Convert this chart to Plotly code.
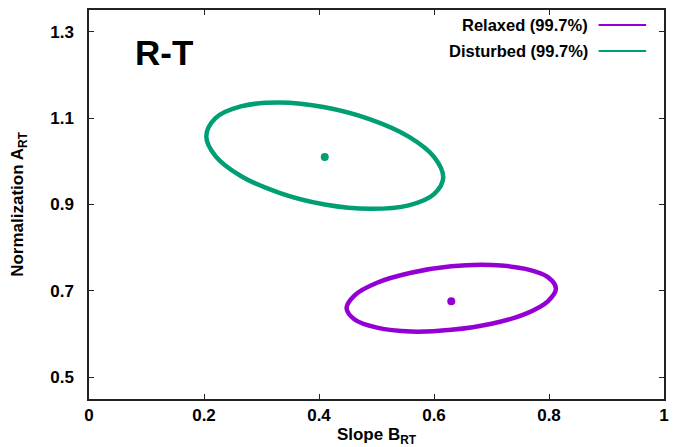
import plotly.graph_objects as go

# Data (99.7% confidence contours and best-fit points)
relaxed_x = [0.812, 0.798, 0.759, 0.700, 0.630, 0.560, 0.501, 0.462, 0.448, 0.462, 0.501, 0.560, 0.630, 0.700, 0.759, 0.798, 0.812]
relaxed_y = [0.706, 0.732, 0.751, 0.760, 0.757, 0.742, 0.719, 0.690, 0.660, 0.634, 0.615, 0.606, 0.610, 0.624, 0.647, 0.676, 0.706]
disturbed_x = [0.616, 0.600, 0.556, 0.489, 0.410, 0.331, 0.264, 0.220, 0.204, 0.220, 0.264, 0.331, 0.410, 0.489, 0.556, 0.600, 0.616]
disturbed_y = [0.962, 1.010, 1.057, 1.097, 1.125, 1.136, 1.127, 1.100, 1.058, 1.012, 0.966, 0.927, 0.900, 0.890, 0.898, 0.924, 0.962]
best_relaxed = (0.630, 0.676)
best_disturbed = (0.410, 1.010)

series_names = ["Relaxed (99.7%)", "Disturbed (99.7%)"]
colors = ["#9400D3", "#009E73"]

x_ticks = [0, 0.2, 0.4, 0.6, 0.8, 1]
x_labels = ["0", "0.2", "0.4", "0.6", "0.8", "1"]
y_ticks = [0.5, 0.7, 0.9, 1.1, 1.3]
y_labels = ["0.5", "0.7", "0.9", "1.1", "1.3"]

FONT = "Liberation Sans, Arial, Helvetica, sans-serif"

fig = go.Figure()
fig.add_trace(go.Scatter(x=relaxed_x, y=relaxed_y, mode="lines", name=series_names[0],
                         line=dict(color=colors[0], width=4.5, shape="spline", smoothing=1.0),
                         showlegend=False))
fig.add_trace(go.Scatter(x=disturbed_x, y=disturbed_y, mode="lines", name=series_names[1],
                         line=dict(color=colors[1], width=4.5, shape="spline", smoothing=1.0),
                         showlegend=False))
fig.add_trace(go.Scatter(x=[best_relaxed[0]], y=[best_relaxed[1]], mode="markers",
                         marker=dict(color=colors[0], size=8), showlegend=False))
fig.add_trace(go.Scatter(x=[best_disturbed[0]], y=[best_disturbed[1]], mode="markers",
                         marker=dict(color=colors[1], size=8), showlegend=False))

axis_common = dict(showline=True, linecolor="#222222", linewidth=1.5, mirror="ticks",
                   ticks="inside", ticklen=5, tickwidth=1, tickcolor="#222222",
                   showgrid=False, zeroline=False,
                   tickfont=dict(family=FONT, size=17, color="black", weight="bold"))

fig.update_layout(
    width=673, height=447,
    margin=dict(l=89, r=4, t=10, b=48),
    paper_bgcolor="white", plot_bgcolor="white",
    xaxis=dict(range=[0, 1], tickvals=x_ticks, ticktext=x_labels,
               title=dict(text="Slope B<sub>RT</sub>", standoff=6,
                          font=dict(family=FONT, size=17, color="black", weight="bold")),
               **axis_common),
    yaxis=dict(range=[0.45, 1.35], tickvals=y_ticks, ticktext=y_labels,
               ticklabelstandoff=10,
               title=dict(text="Normalization A<sub>RT</sub>", standoff=22,
                          font=dict(family=FONT, size=17, color="black", weight="bold")),
               **axis_common),
    showlegend=False,
)

# "R-T" label
fig.add_annotation(text="R-T", xref="paper", yref="paper", x=0.077, y=0.892,
                   xanchor="left", yanchor="middle", showarrow=False,
                   font=dict(family=FONT, size=35, color="black", weight="bold"))

# gnuplot-style key (text right, sample line to the right)
legend_y = [1 - (25 - 10) / 389, 1 - (51 - 10) / 389]
for name, col, yy in zip(series_names, colors, legend_y):
    fig.add_annotation(text=name, xref="paper", yref="paper", x=(594 - 89) / 580, y=yy,
                       xanchor="right", yanchor="middle", showarrow=False,
                       font=dict(family=FONT, size=16.5, color="black", weight="bold"))
    fig.add_shape(type="line", xref="paper", yref="paper",
                  x0=(603 - 89) / 580, x1=(651 - 89) / 580, y0=yy, y1=yy,
                  line=dict(color=col, width=2))

fig.write_html("out.html")
